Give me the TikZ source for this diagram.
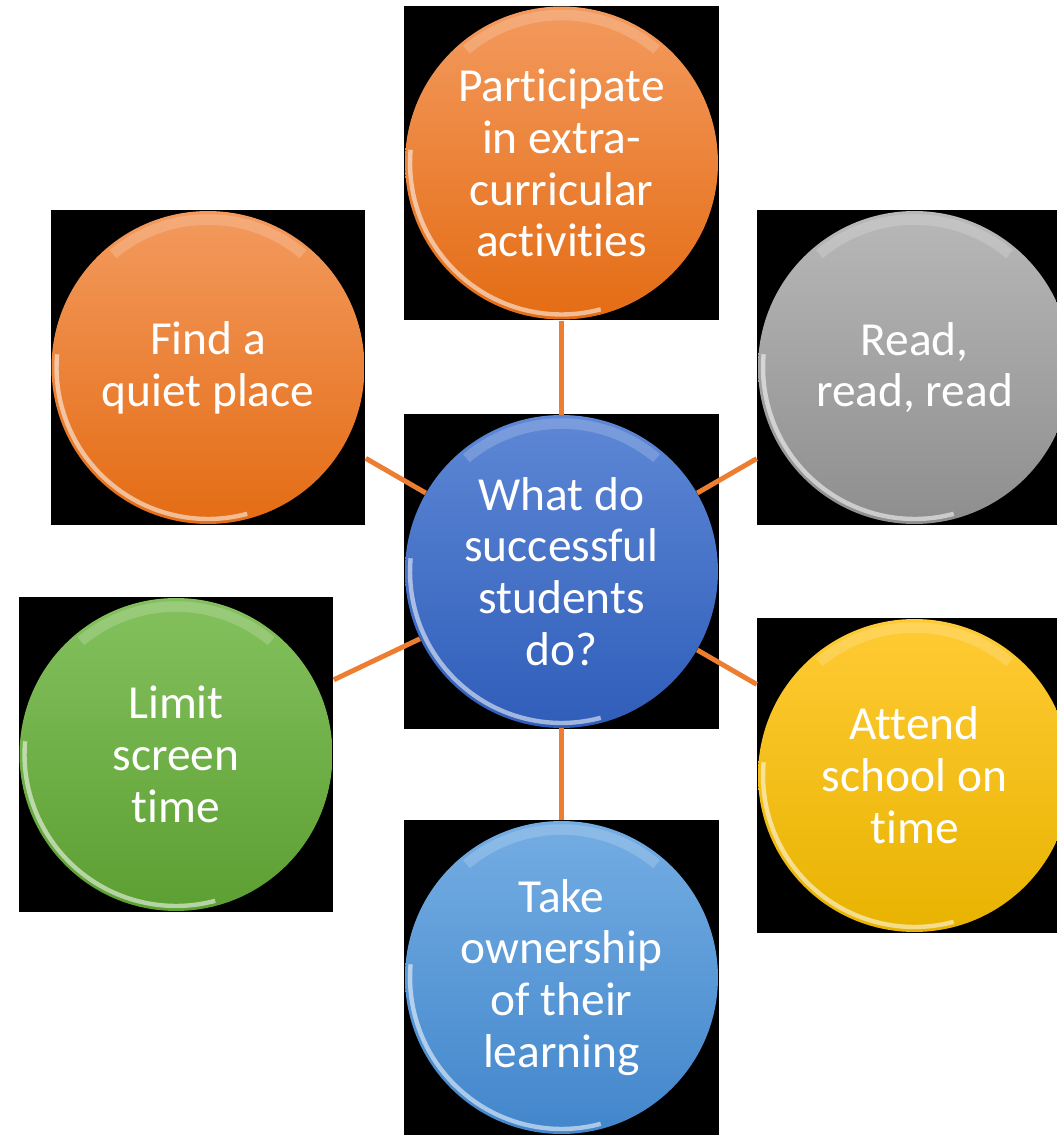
\documentclass[tikz,border=0pt]{standalone}
\usepackage{fontspec}
\setmainfont{Carlito}[Ligatures=NoCommon]

\definecolor{linkorange}{HTML}{ED7D31}
\definecolor{orangetop}{HTML}{F39A5E}
\definecolor{orangebot}{HTML}{E46C14}
\definecolor{graytop}{HTML}{B8B8B8}
\definecolor{graybot}{HTML}{8E8E8E}
\definecolor{bluetop}{HTML}{5E88D6}
\definecolor{bluebot}{HTML}{2F5DB9}
\definecolor{greentop}{HTML}{84C15E}
\definecolor{greenbot}{HTML}{5C9F32}
\definecolor{goldtop}{HTML}{FFCB34}
\definecolor{goldbot}{HTML}{E8B300}
\definecolor{skytop}{HTML}{74ADE3}
\definecolor{skybot}{HTML}{4286CB}

\tikzset{
  backsq/.style={fill=black, minimum size=6.3cm, inner sep=0pt},
  gloss/.style={path picture={
      \draw[white, line width=2.5pt, opacity=.55]
        (path picture bounding box.center) ++(175:3.03cm)
        arc[start angle=175, end angle=285, radius=3.03cm];
      \draw[white, line width=6pt, opacity=.18]
        (path picture bounding box.center) ++(50:2.96cm)
        arc[start angle=50, end angle=130, radius=2.96cm];
  }},
  bubble/.style={circle, minimum size=6.26cm, inner sep=0pt, align=center,
    text=white, font=\fontsize{27}{29.5}\selectfont, gloss},
  link/.style={draw=linkorange, line width=2.8pt},
}

\begin{document}
\begin{tikzpicture}[x=0.02cm, y=-0.02cm]
  \useasboundingbox[fill=white] (0,0) rectangle (1056,1135);

  % black backs
  \node[backsq] (c-bg)  at (561.5,571.5) {};
  \node[backsq] (t-bg)  at (561.5,163) {};
  \node[backsq] (tl-bg) at (208,367.5) {};
  \node[backsq] (tr-bg) at (914.5,367.5) {};
  \node[backsq] (bl-bg) at (176,754.5) {};
  \node[backsq] (br-bg) at (914.5,775.5) {};
  \node[backsq] (b-bg)  at (561.5,977.5) {};

  % bubbles
  \node[bubble, top color=bluetop, bottom color=bluebot] (c) at (c-bg)
    {What do\\successful\\students\\do?};
  \node[bubble, top color=orangetop, bottom color=orangebot] (t) at (t-bg)
    {Participate\\in extra-\\curricular\\activities};
  \node[bubble, top color=orangetop, bottom color=orangebot] (tl) at (tl-bg)
    {Find a\\quiet place};
  \node[bubble, top color=graytop, bottom color=graybot] (tr) at (tr-bg)
    {Read,\\read, read};
  \node[bubble, top color=greentop, bottom color=greenbot] (bl) at (bl-bg)
    {Limit\\screen\\time};
  \node[bubble, top color=goldtop, bottom color=goldbot] (br) at (br-bg)
    {Attend\\school on\\time};
  \node[bubble, top color=skytop, bottom color=skybot] (b) at (b-bg)
    {Take\\ownership\\of their\\learning};

  % connectors
  \foreach \n in {t,tl,tr,bl,br,b}
    \draw[link] (c) -- (\n-bg);
\end{tikzpicture}
\end{document}
